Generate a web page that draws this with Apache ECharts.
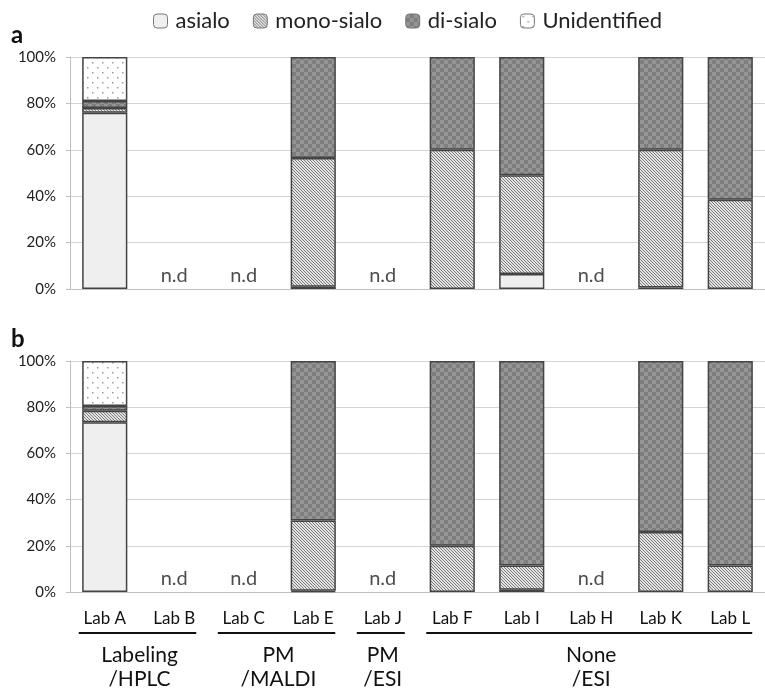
<!DOCTYPE html>
<html><head><meta charset="utf-8">
<script src="https://cdn.jsdelivr.net/npm/echarts@6/dist/echarts.min.js"></script>
<style>html,body{margin:0;padding:0;background:#fff}#c{width:765px;height:692px}</style>
</head><body><div id="c"></div>
<script>
const labs = ['Lab A','Lab B','Lab C','Lab E','Lab J','Lab F','Lab I','Lab H','Lab K','Lab L'];
const yTicks = ['0%','20%','40%','60%','80%','100%'];
const seriesNames = ['asialo','mono-sialo','di-sialo','Unidentified'];
// panel a
const aAsialo = [76, null, null, 1, null, null, 6.5, null, 0.7, null];
const aMono   = [2, null, null, 55.5, null, 60, 42.5, null, 59.3, 38.5];
const aDi     = [3, null, null, 43.5, null, 40, 51, null, 40, 61.5];
const aUnid   = [19, null, null, null, null, null, null, null, null, null];
// panel b
const bAsialo = [73.5, null, null, 0.5, null, null, 1, null, null, null];
const bMono   = [5, null, null, 30.5, null, 20, 10.5, null, 26, 11.5];
const bDi     = [2, null, null, 69, null, 80, 88.5, null, 74, 88.5];
const bUnid   = [19.5, null, null, null, null, null, null, null, null, null];
const ndLabs = ['Lab B','Lab C','Lab J','Lab H'];
const groups = [
  {name:'Labeling\n/HPLC', from:'Lab A', to:'Lab B'},
  {name:'PM\n/MALDI', from:'Lab C', to:'Lab E'},
  {name:'PM\n/ESI', from:'Lab J', to:'Lab J'},
  {name:'None\n/ESI', from:'Lab F', to:'Lab L'}
];

const FONT = 'Lato, "Open Sans", sans-serif';

function mkCanvas(w,h,draw){const c=document.createElement('canvas');c.width=w;c.height=h;const g=c.getContext('2d');draw(g);return c;}
const patAsialo = '#efefef';
const patMono = {image: mkCanvas(3,3,g=>{g.fillStyle='#e4e4e4';g.fillRect(0,0,3,3);g.fillStyle='#7a7a7a';
  g.fillRect(0,0,1,1);g.fillRect(1,1,1,1);g.fillRect(2,2,1,1);}), repeat:'repeat'};
const patDi = {image: mkCanvas(8,8,g=>{g.fillStyle='#7e7e7e';g.fillRect(0,0,8,8);g.fillStyle='#959595';g.fillRect(0,0,4,4);g.fillRect(4,4,4,4);}), repeat:'repeat'};
const patUnid = {image: mkCanvas(10,10,g=>{g.fillStyle='#ffffff';g.fillRect(0,0,10,10);g.fillStyle='#9a9a9a';g.fillRect(2,2,1.5,1.5);g.fillRect(7,7,1.5,1.5);}), repeat:'repeat'};
const fills = [patAsialo, patMono, patDi, patUnid];

const chart = echarts.init(document.getElementById('c'), null, {renderer:'canvas'});

const gridA = {left:70, right:-11, top:57, height:232};
const gridB = {left:70, right:-11, top:361, height:231};

function yAxis(gi){return {type:'value', gridIndex:gi, min:0, max:100, interval:20,
  axisLine:{show:true, lineStyle:{color:'#bfbfbf'}},
  axisTick:{show:true, length:4, lineStyle:{color:'#bfbfbf'}},
  axisLabel:{formatter:v=>yTicks[v/20], fontSize:15, color:'#222', fontFamily:FONT, margin:14},
  splitLine:{lineStyle:{color:'#d4d4d4'}}};}
function xAxis(gi, showLabel){return {type:'category', gridIndex:gi, data:labs,
  axisLine:{lineStyle:{color:'#bfbfbf'}}, axisTick:{show:false},
  axisLabel:{show:showLabel, fontSize:17, color:'#111', fontFamily:FONT, margin:18, interval:0}};}

const series = [];
const dataA = [aAsialo,aMono,aDi,aUnid], dataB=[bAsialo,bMono,bDi,bUnid];
[dataA,dataB].forEach((set,gi)=>{
  set.forEach((d,i)=>{
    series.push({name:seriesNames[i], type:'bar', stack:'s'+gi, xAxisIndex:gi, yAxisIndex:gi,
      data:d, barWidth:'65%',
      itemStyle:{color:fills[i], borderColor:'#444', borderWidth:1.5}});
  });
  series.push({type:'scatter', xAxisIndex:gi, yAxisIndex:gi, symbolSize:0, silent:true,
    data: ndLabs.map(l=>[l,0]),
    label:{show:true, position:'top', distance:3, formatter:'n.d', fontSize:20, color:'#222', fontFamily:FONT}});
});

chart.setOption({
  animation:false,
  textStyle:{fontFamily:FONT},
  legend:{data:seriesNames, left:148, top:5, itemWidth:14, itemHeight:14, itemGap:23,
    textStyle:{fontSize:22, color:'#222', fontFamily:FONT, padding:[0,0,0,3]},
    itemStyle:{borderColor:'#777', borderWidth:1}},
  grid:[gridA, gridB],
  xAxis:[xAxis(0,false), xAxis(1,true)],
  yAxis:[yAxis(0), yAxis(1)],
  series:series
});

const gfx = [
  {type:'text', left:11, top:23, style:{text:'a', font:'bold 24px '+FONT, fill:'#111'}},
  {type:'text', left:11, top:327, style:{text:'b', font:'bold 24px '+FONT, fill:'#111'}}
];
groups.forEach(g=>{
  const x1 = chart.convertToPixel({xAxisIndex:1}, g.from);
  const x2 = chart.convertToPixel({xAxisIndex:1}, g.to);
  gfx.push({type:'line', shape:{x1:x1-26, y1:633, x2:Math.min(x2+22,765), y2:633}, style:{stroke:'#111', lineWidth:2}});
  gfx.push({type:'text', x:(x1+x2)/2, y:643, style:{text:g.name, font:'21px '+FONT, fill:'#111', align:'center', verticalAlign:'top', lineHeight:24}});
});
chart.setOption({graphic:gfx});
</script></body></html>
